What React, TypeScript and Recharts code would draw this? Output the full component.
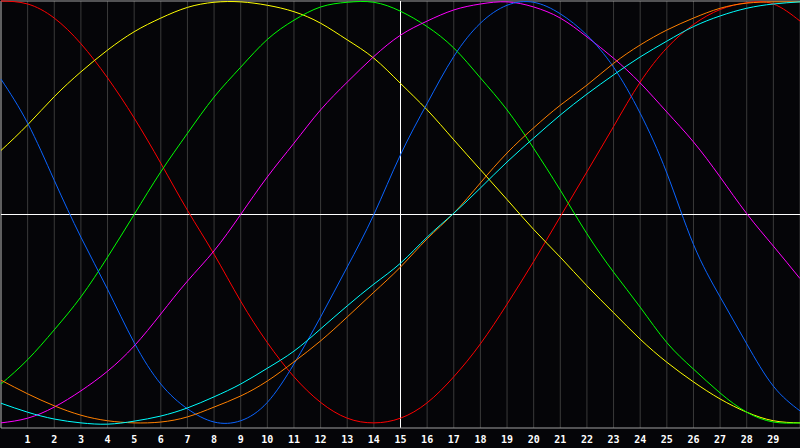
import { LineChart, Line, XAxis, YAxis, CartesianGrid, ReferenceLine } from 'recharts';

const steps = [0, 1, 2, 3, 4, 5, 6, 7, 8, 9, 10, 11, 12, 13, 14, 15, 16, 17, 18, 19, 20, 21, 22, 23, 24, 25, 26, 27, 28, 29, 30];
const tickValues = [1, 2, 3, 4, 5, 6, 7, 8, 9, 10, 11, 12, 13, 14, 15, 16, 17, 18, 19, 20, 21, 22, 23, 24, 25, 26, 27, 28, 29];

const red = [100, 99.3, 96, 90, 82, 72.6, 62, 51, 40.7, 29.7, 20, 12, 6, 2.3, 1.2, 2.3, 5.9, 12, 19.7, 29, 39, 49.5, 60, 70.6, 81, 89, 94.5, 98, 99.6, 99.3, 95.3];
const yellow = [65, 71, 77.6, 83.4, 88.5, 92.8, 96, 98.5, 99.7, 99.8, 99, 97.5, 94.8, 90.9, 86.6, 80.7, 74.5, 67.5, 60.5, 53.5, 46.5, 40, 33.3, 27, 20.8, 15.4, 10.8, 6.8, 3.7, 1.7, 1.2];
const green = [10.3, 16, 23, 30.7, 40, 50, 60, 69, 77.5, 84.5, 91, 95.5, 98.6, 99.7, 99.7, 97.6, 94, 89, 82, 74.5, 65.5, 55.7, 45.5, 36.5, 28.3, 20, 13.8, 8.2, 3.7, 1.4, 1.2];
const magenta = [1.2, 2.3, 4.9, 8.7, 13.3, 19.2, 26.7, 34.4, 41.5, 50, 58.8, 66.7, 74.5, 81, 87, 92, 95.3, 97.9, 99.3, 99.8, 98.6, 96, 91.6, 86.6, 80.8, 74, 67, 58.8, 50.2, 42.6, 35];
const blue = [81.7, 71.4, 58, 44.7, 32.5, 20, 10.3, 4.5, 1.4, 1.7, 6, 15, 26, 37.7, 50, 64, 76, 87, 94.8, 99, 99.7, 97, 92, 84.5, 73.7, 59.7, 43, 30.7, 19.7, 9.8, 4];
const orange = [11.2, 8, 5.2, 3, 1.7, 1.2, 1.4, 2.6, 4.9, 7.5, 11, 15.5, 20.4, 26, 31.8, 37.7, 44.3, 50.3, 57.4, 64.4, 70.3, 75.6, 80.3, 85.4, 89.7, 93.2, 96, 98.3, 99.5, 99.8, 99.8];
const cyan = [5.8, 3.7, 2.1, 1.2, 0.9, 1.6, 2.8, 4.7, 7.3, 10.3, 14, 18, 23.2, 28.6, 33.7, 38.6, 44.7, 50.3, 56.2, 62.3, 67.9, 73.3, 78.2, 82.7, 86.9, 90.6, 94, 96.5, 98.3, 99.3, 99.8];

const series = [
  { key: 'red', values: red, color: '#ff0000' },
  { key: 'yellow', values: yellow, color: '#ffff00' },
  { key: 'green', values: green, color: '#00ff00' },
  { key: 'magenta', values: magenta, color: '#ff00ff' },
  { key: 'blue', values: blue, color: '#0a64ff' },
  { key: 'orange', values: orange, color: '#ff8000' },
  { key: 'cyan', values: cyan, color: '#00ffff' },
];

const chartData = steps.map((t, i) => {
  const point: Record<string, number> = { t };
  series.forEach((s) => {
    point[s.key] = s.values[i];
  });
  return point;
});

export default function App() {
  return (
    <div style={{ position: 'absolute', left: 0, top: 0, width: 800, height: 448, background: '#050508' }}>
      <LineChart width={800} height={448} data={chartData} margin={{ top: 1, right: 0, left: 1, bottom: 0 }}>
        <CartesianGrid horizontal={false} stroke="#3a3a3a" strokeWidth={1} />
        <XAxis
          dataKey="t"
          type="number"
          domain={[0, 30]}
          ticks={tickValues}
          interval={0}
          height={20}
          tickLine={false}
          axisLine={{ stroke: '#a0a0a0' }}
          tick={{ fill: '#ffffff', fontSize: 10, fontWeight: 'bold', fontFamily: 'DejaVu Sans Mono' }}
        />
        <YAxis hide domain={[0, 100]} />
        <ReferenceLine x={0} stroke="#a0a0a0" />
        <ReferenceLine y={100} stroke="#a0a0a0" />
        <ReferenceLine x={15} stroke="#ffffff" />
        <ReferenceLine y={50} stroke="#ffffff" />
        {series.map((s) => (
          <Line
            key={s.key}
            type="natural"
            dataKey={s.key}
            stroke={s.color}
            strokeWidth={1}
            dot={false}
            isAnimationActive={false}
          />
        ))}
      </LineChart>
    </div>
  );
}
